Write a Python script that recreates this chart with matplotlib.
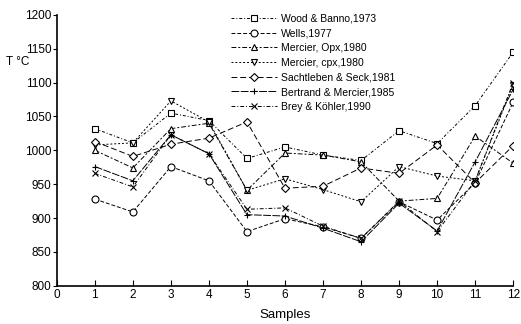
import numpy as np
import matplotlib
matplotlib.use("Agg")
import matplotlib.pyplot as plt

plt.rcParams['font.family'] = ['Liberation Sans', 'DejaVu Sans']

samples = np.arange(1, 13)

wood_banno = [1032, 1011, 1055, 1044, 988, 1005, 993, 985, 1029, 1010, 1066, 1145]
wells = [928, 909, 976, 955, 880, 899, 887, 870, 924, 897, 952, 1071]
mercier_opx = [1000, 974, 1032, 1040, 941, 996, 993, 983, 925, 929, 1021, 981]
mercier_cpx = [1008, 1011, 1073, 1042, 941, 958, 942, 924, 976, 962, 955, 1097]
sachtleben = [1013, 991, 1009, 1018, 1042, 944, 947, 974, 966, 1008, 952, 1007]
bertrand = [976, 955, 1023, 995, 905, 903, 885, 865, 922, 881, 983, 1090]
brey = [966, 946, 1023, 995, 913, 915, 888, 870, 925, 880, 955, 1100]

series = [
    ("Wood & Banno,1973", wood_banno, 's', (0, (3, 2, 1, 2))),
    ("Wells,1977", wells, 'o', (0, (4, 2))),
    ("Mercier, Opx,1980", mercier_opx, '^', (0, (5, 2, 2, 2))),
    ("Mercier, cpx,1980", mercier_cpx, 'v', (0, (2, 2))),
    ("Sachtleben & Seck,1981", sachtleben, 'D', (0, (6, 3))),
    ("Bertrand & Mercier,1985", bertrand, '+', (0, (8, 1.5))),
    ("Brey & Köhler,1990", brey, 'x', (0, (4, 2, 1, 2))),
]

fig = plt.figure(figsize=(5.21, 3.24), dpi=100)
ax = fig.add_axes([0.109, 0.118, 0.876, 0.836])

for name, vals, mk, ls in series:
    ms = 4 if mk == 'D' else 5
    ax.plot(samples, vals, color='black', linestyle=ls, linewidth=0.7,
            marker=mk, markersize=ms, markerfacecolor='white',
            markeredgecolor='black', markeredgewidth=0.8, label=name)

ax.set_xlim(0, 12)
ax.set_ylim(800, 1200)
ax.set_xticks(range(0, 13))
ax.set_yticks(range(800, 1201, 50))
ax.spines['top'].set_visible(False)
ax.spines['right'].set_visible(False)
ax.spines['left'].set_linewidth(1.2)
ax.spines['bottom'].set_linewidth(1.2)
ax.tick_params(axis='x', direction='in', length=4, labelsize=8.5, pad=2)
ax.tick_params(axis='y', direction='out', length=3, labelsize=8.5, pad=1)

ax.set_xlabel("Samples", fontsize=9.5, labelpad=6)
fig.text(0.012, 0.808, "T °C", fontsize=8.5, ha='left', va='center')

ax.legend(loc='upper left', bbox_to_anchor=(0.372, 1.02), frameon=False,
          fontsize=7.5, handlelength=4.4, handletextpad=0.4,
          labelspacing=0.45, borderaxespad=0)

fig.savefig("out.png", dpi=100)
